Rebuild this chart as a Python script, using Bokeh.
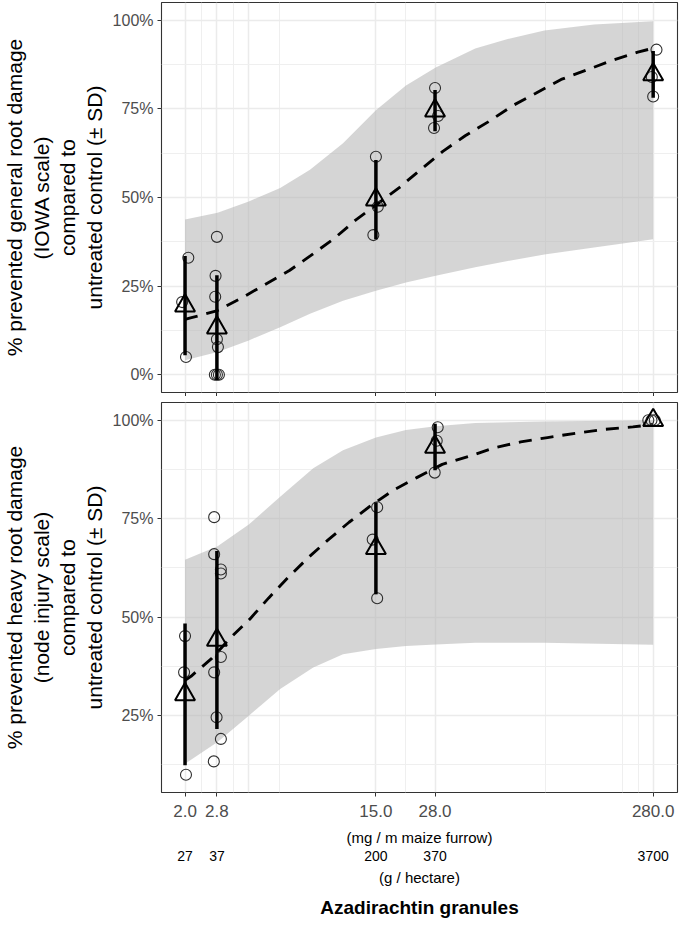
from bokeh.plotting import figure
from bokeh.models import Range1d, FixedTicker, PrintfTickFormatter, LogAxis, Title
from bokeh.layouts import column
from bokeh.embed import file_html
from bokeh.resources import INLINE

# ---------------- data ----------------
# dose in mg azadirachtin per m maize furrow, and the matching g / hectare labels
dose_ticks = [2.0, 2.8, 15.0, 28.0, 280.0]
hectare_labels = ["27", "37", "200", "370", "3700"]

# top panel: prevented general root damage (IOWA scale), %
top_pt_dose = [1.94, 2.07, 2.02,
               2.80, 2.76, 2.75, 2.80, 2.83, 2.74, 2.80, 2.86,
               15.0, 15.3, 14.6,
               28.0, 28.9, 27.7,
               290.0, 276.0, 280.0]
top_pt_val = [20.5, 33.0, 5.0,
              38.9, 27.9, 22.0, 10.0, 7.8, 0.0, 0.0, 0.0,
              61.5, 47.4, 39.4,
              80.9, 73.0, 69.6,
              91.7, 84.0, 78.5]
top_mean = [19.5, 13.3, 49.4, 74.5, 84.7]
top_sd = [14.0, 14.8, 11.2, 5.8, 6.6]
top_fit_dose = [2.0, 2.14, 2.79, 3.62, 4.63, 6.02, 7.53, 9.64, 12.1, 19.2, 24.1, 30.4, 38.5,
                49.6, 63.5, 81.1, 106.0, 138.0, 180.0, 238.0, 280.0]
top_fit_val = [15.6, 16.1, 18.0, 21.6, 25.4, 29.4, 33.6, 38.4, 43.6, 52.8, 57.9, 63.0, 67.4,
               71.5, 75.9, 79.4, 83.3, 85.9, 88.6, 91.0, 92.1]
top_band_dose = [2.0, 2.82, 3.92, 5.46, 7.48, 10.6, 15.0, 20.6, 28.2, 42.8, 60.3, 88.8, 150.0, 280.0]
top_band_low = [4.1, 6.4, 9.7, 13.4, 17.2, 20.9, 23.7, 26.0, 27.9, 30.3, 32.1, 33.9, 35.9, 38.2]
top_band_high = [43.8, 45.7, 48.9, 52.7, 57.8, 65.3, 74.6, 81.6, 86.7, 92.0, 94.7, 97.1, 98.8, 99.7]

# bottom panel: prevented heavy root damage (node injury scale), %
bot_pt_dose = [2.0, 1.98, 2.02,
               2.72, 2.72, 2.92, 2.92, 2.92, 2.72, 2.79, 2.92, 2.71,
               15.2, 14.5, 15.2,
               28.8, 28.5, 27.9,
               266.0, 275.0, 285.0]
bot_pt_val = [45.2, 36.0, 10.0,
              75.4, 66.0, 62.1, 61.1, 39.9, 36.0, 24.6, 19.1, 13.4,
              77.9, 69.7, 54.8,
              98.2, 94.8, 86.7,
              100.0, 100.0, 100.0]
bot_mean = [30.4, 44.2, 67.5, 93.2, 100.0]
bot_sd = [18.0, 22.6, 11.7, 5.9, 0.0]
bot_fit_dose = [2.0, 2.13, 2.66, 3.22, 3.96, 4.84, 5.92, 7.30, 9.0, 11.3, 14.2, 18.1, 23.2, 30.2,
                39.9, 52.2, 69.2, 91.8, 124.0, 168.0, 226.0, 280.0]
bot_fit_val = [34.0, 35.0, 39.6, 44.7, 49.5, 54.9, 60.0, 65.0, 69.5, 74.1, 78.3, 82.3, 85.5, 88.8,
               90.8, 93.0, 94.5, 95.6, 96.7, 97.7, 98.3, 98.9]
bot_band_dose = [2.0, 2.82, 3.92, 5.46, 7.74, 10.6, 15.0, 20.6, 28.2, 42.8, 88.8, 280.0]
bot_band_low = [12.8, 18.3, 25.0, 31.8, 37.2, 40.6, 41.9, 42.7, 43.1, 43.5, 43.5, 43.0]
bot_band_high = [64.6, 68.0, 73.5, 80.6, 87.8, 92.4, 95.6, 97.5, 98.5, 99.3, 99.7, 100.0]

top_ylabel = "% prevented general root damage\n(IOWA scale)\ncompared to\nuntreated control (\u00b1 SD)"
bot_ylabel = "% prevented heavy root damage\n(node injury scale)\ncompared to\nuntreated control (\u00b1 SD)"
x_title = "Azadirachtin granules"
mg_label = "(mg / m maize furrow)"
ha_label = "(g / hectare)"

# ---------------- styling ----------------
FONT = "Liberation Sans"
GRID_X_MAJOR = [2.0, 2.8, 3.9, 15.0, 28.0, 280.0]
GRID_X_MINOR = [2.37, 3.32, 5.43, 20.6, 89.5, 203.0, 240.0]
FRAME_W = 516
FRAME_H = 390


def panel(y0, y1, yticks, yminor, ylabel, top):
    p = figure(x_axis_type="log", x_range=Range1d(1.56, 362.0), y_range=Range1d(y0, y1),
               frame_width=FRAME_W, frame_height=FRAME_H, output_backend="svg",
               toolbar_location=None, min_border_left=148, min_border_right=2,
               min_border_top=2 if top else 6, min_border_bottom=0)
    p.background_fill_color = "white"
    p.border_fill_color = "white"
    p.outline_line_color = "#333333"
    p.outline_line_width = 1.1

    # grids
    p.xgrid.ticker = FixedTicker(ticks=GRID_X_MAJOR, minor_ticks=GRID_X_MINOR)
    p.ygrid.ticker = FixedTicker(ticks=yticks, minor_ticks=yminor)
    for g in (p.xgrid, p.ygrid):
        g.grid_line_color = "#EBEBEB"
        g.grid_line_width = 1.5
        g.minor_grid_line_color = "#EFEFEF"
        g.minor_grid_line_width = 1.0

    # y axis
    ya = p.yaxis[0]
    ya.ticker = FixedTicker(ticks=yticks)
    ya.formatter = PrintfTickFormatter(format="%d%%")
    ya.axis_line_color = None
    ya.major_tick_in = 0
    ya.major_tick_out = 4
    ya.minor_tick_in = 0
    ya.minor_tick_out = 0
    ya.major_tick_line_color = "#333333"
    ya.major_label_text_font = FONT
    ya.major_label_text_font_size = "16px"
    ya.major_label_text_color = "#4D4D4D"
    ya.major_label_standoff = 4
    ya.axis_label = ylabel
    ya.axis_label_text_font = FONT
    ya.axis_label_text_font_size = "21px"
    ya.axis_label_text_font_style = "normal"
    ya.axis_label_text_color = "black"
    ya.axis_label_text_line_height = 1.15
    ya.axis_label_standoff = 4

    # x axis
    xa = p.xaxis[0]
    xa.ticker = FixedTicker(ticks=dose_ticks)
    xa.formatter = PrintfTickFormatter(format="%.1f")
    xa.axis_line_color = None
    xa.major_tick_in = 0
    xa.major_tick_out = 4
    xa.minor_tick_in = 0
    xa.minor_tick_out = 0
    xa.major_tick_line_color = "#333333"
    xa.major_label_text_font = FONT
    if top:
        xa.major_label_text_font_size = "1px"
        xa.major_label_text_color = None
        xa.major_label_standoff = 0
    else:
        xa.major_label_text_font_size = "17px"
        xa.major_label_text_color = "#4D4D4D"
        xa.major_label_standoff = 8
        xa.axis_label = mg_label
        xa.axis_label_text_font = FONT
        xa.axis_label_text_font_size = "15px"
        xa.axis_label_text_font_style = "normal"
        xa.axis_label_text_color = "black"
        xa.axis_label_standoff = 9
    return p


def draw(p, pt_dose, pt_val, mean, sd, fit_dose, fit_val, band_dose, band_low, band_high):
    p.varea(x=band_dose, y1=band_low, y2=band_high, fill_color="#B3B3B3", fill_alpha=0.55)
    p.line(x=fit_dose, y=fit_val, line_color="black", line_width=2.9, line_dash="13 9")
    p.scatter(x=pt_dose, y=pt_val, marker="circle", size=11, fill_color=None,
              line_color="#2E2E2E", line_width=1.1)
    lo = [m - s for m, s in zip(mean, sd)]
    hi = [m + s for m, s in zip(mean, sd)]
    p.segment(x0=dose_ticks, y0=lo, x1=dose_ticks, y1=hi, line_color="black", line_width=3.5)
    p.scatter(x=dose_ticks, y=mean, marker="triangle", size=20, fill_color=None,
              line_color="black", line_width=2)


p1 = panel(-5, 105, [0, 25, 50, 75, 100], [12.5, 37.5, 62.5, 87.5], top_ylabel, True)
draw(p1, top_pt_dose, top_pt_val, top_mean, top_sd, top_fit_dose, top_fit_val,
     top_band_dose, top_band_low, top_band_high)

p2 = panel(5.5, 104.5, [25, 50, 75, 100], [12.5, 37.5, 62.5, 87.5], bot_ylabel, False)
draw(p2, bot_pt_dose, bot_pt_val, bot_mean, bot_sd, bot_fit_dose, bot_fit_val,
     bot_band_dose, bot_band_low, bot_band_high)

# second x axis: g / hectare
ha_axis = LogAxis(ticker=FixedTicker(ticks=dose_ticks),
                  major_label_overrides={d: l for d, l in zip(dose_ticks, hectare_labels)})
ha_axis.axis_line_color = None
ha_axis.major_tick_in = 0
ha_axis.major_tick_out = 0
ha_axis.minor_tick_in = 0
ha_axis.minor_tick_out = 0
ha_axis.major_label_standoff = 2
ha_axis.major_label_text_font = FONT
ha_axis.major_label_text_font_size = "14px"
ha_axis.major_label_text_color = "black"
ha_axis.axis_label = ha_label
ha_axis.axis_label_text_font = FONT
ha_axis.axis_label_text_font_size = "15px"
ha_axis.axis_label_text_font_style = "normal"
ha_axis.axis_label_text_color = "black"
ha_axis.axis_label_standoff = 5
p2.add_layout(ha_axis, "below")

p2.add_layout(Title(text=x_title, align="center", text_font=FONT, text_font_size="19px",
                    text_font_style="bold", text_color="black", standoff=13, offset=16), "below")

layout = column(p1, p2)
open("out.html", "w").write(file_html(layout, INLINE))
